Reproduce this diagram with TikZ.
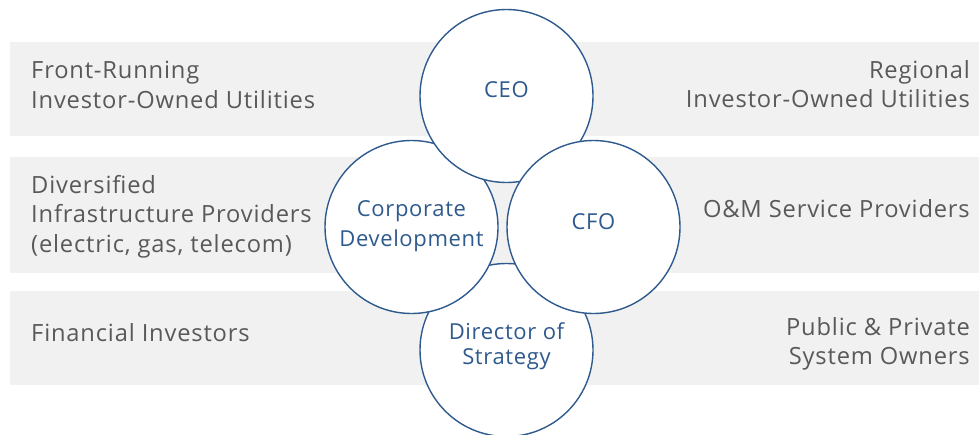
\documentclass[tikz,border=0pt]{standalone}
\usepackage{fontspec}
\setmainfont[LetterSpace=3.5]{Open Sans}
\newfontfamily\rolefont[LetterSpace=3]{Open Sans}
\definecolor{bandgray}{HTML}{F1F1F1}
\definecolor{labelgray}{HTML}{595959}
\definecolor{roleblue}{HTML}{2E5A8E}
\tikzset{
  rolecircle/.style={circle, draw=roleblue, line width=1.4pt, fill=white,
    minimum size=173pt, inner sep=0pt},
  roletext/.style={text=roleblue, inner sep=0pt, align=center,
    font=\rolefont\fontsize{22}{30.5}\selectfont},
  grouplabel/.style={text=labelgray, inner sep=0pt,
    font=\fontsize{23.7}{29.5}\selectfont},
}
\begin{document}
\begin{tikzpicture}[x=1pt,y=-1pt]
			\useasboundingbox (0,0) rectangle (979,434);
			
			% Grey bands behind the groups
			\fill[bandgray] (10,42) rectangle (979,136);
			\fill[bandgray] (10,157) rectangle (979,273);
			\fill[bandgray] (10,291) rectangle (979,385);
			
			% Groups on the left
			\node[grouplabel, anchor=west, align=left] (frontrunning) at (31,85)
			{Front-Running\\Investor-Owned Utilities};
			\node[grouplabel, anchor=west, align=left] (diversified) at (31,216.5)
			{Diversified\\Infrastructure Providers\\(electric, gas, telecom)};
			\node[grouplabel, anchor=west, align=left] (financial) at (31,332.5)
			{Financial Investors};
			
			% Groups on the right
			\node[grouplabel, anchor=east, align=right] (regional) at (970,84)
			{Regional\\Investor-Owned Utilities};
			\node[grouplabel, anchor=east, align=right] (omservice) at (970,209)
			{O\&M Service Providers};
			\node[grouplabel, anchor=east, align=right] (systemowners) at (970,344)
			{Public \& Private\\System Owners};
			
			% Roles, drawn from back to front
			\node[rolecircle] (strategy) at (506.5,350) {};
			\node[roletext, font=\rolefont\fontsize{22}{25.5}\selectfont] (strategytext)
			at ([yshift=4pt]strategy.center) {Director of\\Strategy};
			\node[rolecircle] (corpdev) at (411.5,227) {};
			\node[roletext] (corpdevtext) at ([yshift=1pt]corpdev.center)
			{Corporate\\Development};
			\node[rolecircle] (ceo) at (506.5,96) {};
			\node[roletext] (ceotext) at ([yshift=6.5pt]ceo.center) {CEO};
			\node[rolecircle] (cfo) at (593.5,227) {};
			\node[roletext] (cfotext) at ([yshift=5.5pt]cfo.center) {CFO};
			
		\end{tikzpicture}
\end{document}
